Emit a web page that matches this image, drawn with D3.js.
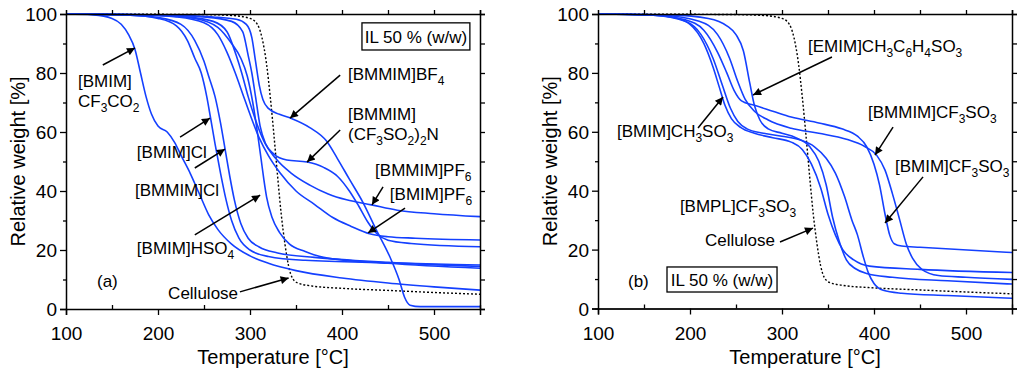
<!DOCTYPE html>
<html lang="en">
<head>
<meta charset="utf-8">
<title>TGA curves, IL 50 % (w/w)</title>
<script src="https://d3js.org/d3.v7.min.js"></script>
<style>
  body { margin: 0; background: #fff; }
  text { font-family: Arial, "Liberation Sans", Helvetica, sans-serif; fill: #000; }
  .tick text { font-size: 19px; }
  .note { font-size: 17px; }
  .title { font-size: 20px; }
</style>
</head>
<body>
<svg id="chart" width="1024" height="369"></svg>
<script>
// ---- data: temperature [°C], relative weight [%] ----
var cellulose = [[100,100],[250,99.8],[280,99.5],[300,98.5],[308,96.5],[313,92],[318,83],[322,72],[326,59],[330,45],[334,32],[338,22],[342,14.5],[346,10.5],[352,8.8],[365,7.9],[400,7.0],[450,6.3],[500,5.6],[550,5.0]];

// panel (a)
var bmimCF3CO2  = [[100,100],[130,99.7],[150,98.5],[160,96.5],[168,93],[175,88],[181,80],[187,72],[193,66],[200,62],[210,60],[218,56.5],[226,51.5],[235,46],[245,39],[255,32],[265,27],[280,22],[300,18],[320,15.5],[350,13],[400,10.5],[450,8.8],[500,7.5],[550,6.4]];
var bmimCl      = [[100,100],[170,99.6],[200,98.5],[220,96],[232,91],[240,85],[247,80],[253,72],[257,65],[262,56],[268,46],[274,37],[280,30],[288,24],[300,20],[320,17.8],[360,16.5],[450,15.7],[550,14.9]];
var bmmimCl     = [[100,100],[170,99.6],[200,98.8],[225,96.5],[240,91],[250,84],[255,79],[262,72],[268,63],[273,54],[278,45],[283,37],[290,29],[298,24],[310,21],[330,19],[370,17.5],[450,15.8],[550,14.4]];
var bmimHSO4    = [[100,100],[200,99.6],[240,98.5],[265,95.5],[280,90],[290,85],[297,79],[303,70],[308,60],[312,51],[315,44],[318,38],[324,31],[332,26],[343,22],[360,19.5],[380,17.5],[450,15.5],[550,13.8]];
var bmimPF6     = [[100,100],[180,99.7],[220,99],[250,97],[265,93],[275,87],[284,80],[292,73],[300,66],[310,58],[320,52],[333,46],[350,40],[370,35.5],[390,31],[410,28],[430,25.5],[450,24.5],[480,24],[550,23.4]];
var bmmimPF6    = [[100,100],[180,99.7],[230,99],[260,97.5],[275,94],[285,86],[291,80],[298,72],[305,65],[315,57],[328,51],[345,46],[365,42],[385,39],[405,37],[432,35.3],[460,33.5],[500,32.3],[550,31.3]];
var bmmimNTf2   = [[100,100],[200,99.7],[250,99],[280,97.5],[292,94],[298,86],[302,80],[306,72],[311,62],[317,56],[326,52.5],[340,50.5],[362,49.8],[380,48],[395,45],[408,40],[418,35],[428,29.5],[438,25.5],[450,23.3],[475,22.2],[550,21.1]];
var bmmimBF4    = [[100,100],[200,99.7],[260,99],[285,98.2],[296,96.5],[302,92],[306,84],[310,76],[314,71],[320,68],[332,66],[345,64.6],[365,61.5],[383,57],[395,51],[408,44],[423,36],[437,27],[452,17.7],[462,10],[468,4],[474,1.3],[485,0.8],[550,0.8]];

// panel (b)
var bmimCH3SO3  = [[100,100],[150,99.8],[180,99],[200,96.5],[215,90],[225,82],[232,75],[238,69],[245,64.5],[255,61.5],[270,59.5],[290,58],[310,56.5],[322,54],[332,49],[342,41],[350,32],[358,25],[366,20],[378,16.5],[395,14.4],[450,13.3],[550,12.2]];
var emimTos     = [[100,100],[180,99.7],[220,98.5],[240,96],[250,93],[258,87.5],[265,76.5],[270,69],[276,64],[285,61],[300,59.5],[315,58],[330,55],[340,50],[348,42],[355,31],[362,23],[370,16.5],[380,13.5],[392,11.9],[420,10.6],[480,9.4],[550,8.3]];
var bmplCF3SO3  = [[100,100],[160,99.6],[195,97.5],[212,93],[225,85],[235,76],[244,68],[252,63.5],[262,61],[280,59.5],[300,58.5],[320,57.2],[335,55],[348,51],[358,46],[368,38],[376,30],[382,25],[388,18],[394,12],[400,8.5],[410,6.2],[430,5.2],[480,4.4],[550,3.5]];
var bmimCF3SO3  = [[100,100],[160,99.6],[195,98],[215,94.5],[230,87],[240,80],[248,74],[256,70.5],[270,69],[290,67],[310,65],[340,63],[365,61],[382,58.5],[392,55],[400,49],[406,42],[412,32],[417,25],[422,22],[430,21.2],[450,20.8],[550,19]];
var bmmimCF3SO3 = [[100,100],[170,99.6],[210,97.5],[230,93],[243,85],[252,77],[260,71],[270,67],[285,64],[310,61.2],[340,59.5],[370,57.5],[390,55],[403,52],[412,47],[420,39],[428,30],[435,22],[442,17],[452,13.3],[470,11.2],[500,10.6],[550,9.9]];

var xTicks = [100, 200, 300, 400, 500];
var yTicks = [0, 20, 40, 60, 80, 100];

// label text, "_n" = subscript n; anchors in data units
var notesA = [
  { text: ["[BMIM]", "CF_3CO_2"], at: [113, 75.3], from: [140, 82.7], to: [175, 88.5] },
  { text: ["[BMIM]Cl"], at: [177, 51.2], from: [224, 58.3], to: [256.5, 64.7] },
  { text: ["[BMMIM]Cl"], at: [175, 38.3], from: [240, 47.8], to: [272.8, 54.2] },
  { text: ["[BMIM]HSO_4"], at: [177, 18.6], from: [240, 25.1], to: [311, 38.6] },
  { text: ["Cellulose"], at: [211, 3.4], from: [289, 5.8], to: [342, 10.5] },
  { text: ["[BMMIM]BF_4"], at: [406.5, 77.6], from: [398, 79.3], to: [343.5, 64.7] },
  { text: ["[BMMIM]", "(CF_3SO_2)_2N"], at: [406.5, 64.1], from: [398, 60.7], to: [362, 49.8] },
  { text: ["[BMMIM]PF_6"], at: [436, 45.1], from: [444.6, 41.4], to: [432.6, 35.3] },
  { text: ["[BMIM]PF_6"], at: [452, 36.9], from: [468.5, 34.2], to: [428.3, 25.8] },
  { text: ["(a)"], at: [133.7, 7.5] }
];
var notesB = [
  { text: ["[EMIM]CH_3C_6H_4SO_3"], at: [328.3, 87.1], from: [354.3, 85.4], to: [268.5, 72.5] },
  { text: ["[BMIM]CH_3SO_3"], at: [120.7, 58.2], from: [208.7, 61.3], to: [235.9, 71.8] },
  { text: ["[BMMIM]CF_3SO_3"], at: [393.5, 64.7], from: [420.7, 61.6], to: [401.1, 52.1] },
  { text: ["[BMIM]CF_3SO_3"], at: [422.8, 46.3], from: [453.3, 44.7], to: [412, 29] },
  { text: ["[BMPL]CF_3SO_3"], at: [189, 32.8] },
  { text: ["Cellulose"], at: [216.3, 21.2], from: [297.8, 22.6], to: [333.7, 27.3] },
  { text: ["(b)"], at: [132.6, 7.3] }
];

var svg = d3.select('#chart');

svg.append('defs').append('marker')
  .attr('id', 'head')
  .attr('viewBox', '0 0 10 10')
  .attr('refX', 10).attr('refY', 5)
  .attr('markerWidth', 11).attr('markerHeight', 8)
  .attr('markerUnits', 'userSpaceOnUse')
  .attr('orient', 'auto')
  .append('path').attr('d', 'M0,0L10,5L0,10z').attr('fill', '#000');

function addText(sel, str) {
  // split "CF_3CO_2" into normal / subscript tspans
  var parts = str.split(/(_\d)/);
  var shifted = false;
  parts.forEach(function(p) {
    if (!p) return;
    if (p[0] === '_') {
      sel.append('tspan').attr('dy', shifted ? 0 : 5).attr('font-size', '12px').text(p[1]);
      shifted = true;
    } else {
      sel.append('tspan').attr('dy', shifted ? -5 : 0).text(p);
      shifted = false;
    }
  });
}

function panel(left, bottom, series, notes, box) {
  var x = d3.scaleLinear().domain([100, 550]).range([left, left + 414]);
  var y = d3.scaleLinear().domain([0, 100]).range([bottom, 14]);
  var g = svg.append('g');

  var line = d3.line()
    .x(function(d) { return x(d[0]); })
    .y(function(d) { return y(d[1]); })
    .curve(d3.curveMonotoneX);

  g.append('path').datum(cellulose)
    .attr('d', line).attr('fill', 'none')
    .attr('stroke', '#000').attr('stroke-width', 1.4)
    .attr('stroke-dasharray', '2,2');

  g.selectAll('.ser').data(series).enter()
    .append('path')
    .attr('class', 'ser')
    .attr('d', line).attr('fill', 'none')
    .attr('stroke', '#1440ff').attr('stroke-width', 1.6);

  // frame: top and right axes
  g.append('g').attr('transform', 'translate(0,14)')
    .call(d3.axisTop(x).tickValues(d3.range(150, 551, 50)).tickSize(4).tickFormat(''))
    .call(function(a) { a.select('.domain').attr('stroke-width', 1.5); });
  g.append('g').attr('transform', 'translate(' + (left + 414) + ',0)')
    .call(d3.axisRight(y).tickValues(d3.range(0, 101, 10)).tickSize(5).tickFormat(''))
    .call(function(a) { a.select('.domain').attr('stroke-width', 1.5); });

  // bottom axis: major out, minor in
  g.append('g').attr('transform', 'translate(0,' + bottom + ')')
    .call(d3.axisBottom(x).tickValues(d3.range(150, 551, 100)).tickSizeInner(-4).tickSizeOuter(0).tickFormat(''));
  var xa = g.append('g').attr('class', 'tick-axis').attr('transform', 'translate(0,' + bottom + ')')
    .call(d3.axisBottom(x).tickValues(xTicks).tickSize(6).tickPadding(8).tickFormat(d3.format('d')));
  xa.select('.domain').attr('stroke-width', 1.5);
  xa.selectAll('text').attr('font-size', null).attr('dy', null).attr('y', 31);

  // left axis
  g.append('g').attr('transform', 'translate(' + left + ',0)')
    .call(d3.axisLeft(y).tickValues(d3.range(10, 100, 20)).tickSize(3).tickFormat(''));
  var ya = g.append('g').attr('transform', 'translate(' + left + ',0)')
    .call(d3.axisLeft(y).tickValues(yTicks).tickSize(6).tickPadding(3));
  ya.select('.domain').attr('stroke-width', 1.5);
  ya.selectAll('text').attr('font-size', null).attr('dy', '0.36em');

  g.selectAll('.tick line').attr('stroke-width', 1.3);
  g.selectAll('g').attr('font-family', null).attr('font-size', null);

  g.append('text').attr('class', 'title')
    .attr('x', left + 207).attr('y', 364)
    .attr('text-anchor', 'middle').text('Temperature [°C]');
  g.append('text').attr('class', 'title')
    .attr('transform', 'translate(' + (left - 41) + ',' + (y(50)) + ') rotate(-90)')
    .attr('text-anchor', 'middle').text('Relative weight [%]');

  // box label
  g.append('rect')
    .attr('x', x(box[0])).attr('y', y(box[1]))
    .attr('width', x(box[2]) - x(box[0])).attr('height', y(box[3]) - y(box[1]))
    .attr('fill', '#fff').attr('stroke', '#000').attr('stroke-width', 1.3);
  g.append('text').attr('class', 'note')
    .attr('x', (x(box[0]) + x(box[2])) / 2).attr('y', y(box[3]) - 6.5)
    .attr('text-anchor', 'middle').text('IL 50 % (w/w)');

  notes.forEach(function(n) {
    n.text.forEach(function(t, i) {
      var el = g.append('text').attr('class', 'note')
        .attr('x', x(n.at[0])).attr('y', y(n.at[1]) + i * 20);
      addText(el, t);
    });
    if (n.from) {
      g.append('line')
        .attr('x1', x(n.from[0])).attr('y1', y(n.from[1]))
        .attr('x2', x(n.to[0])).attr('y2', y(n.to[1]))
        .attr('stroke', '#000').attr('stroke-width', 1.5)
        .attr('marker-end', 'url(#head)');
    }
  });
}

panel(66, 309, [bmimCF3CO2, bmimCl, bmmimCl, bmimHSO4, bmimPF6, bmmimPF6, bmmimNTf2, bmmimBF4], notesA, [421.7, 97, 539, 87.8]);
panel(598, 308.5, [bmimCH3SO3, emimTos, bmplCF3SO3, bmimCF3SO3, bmmimCF3SO3], notesB, [175, 14.1, 294.6, 5.6]);
</script>
</body>
</html>
